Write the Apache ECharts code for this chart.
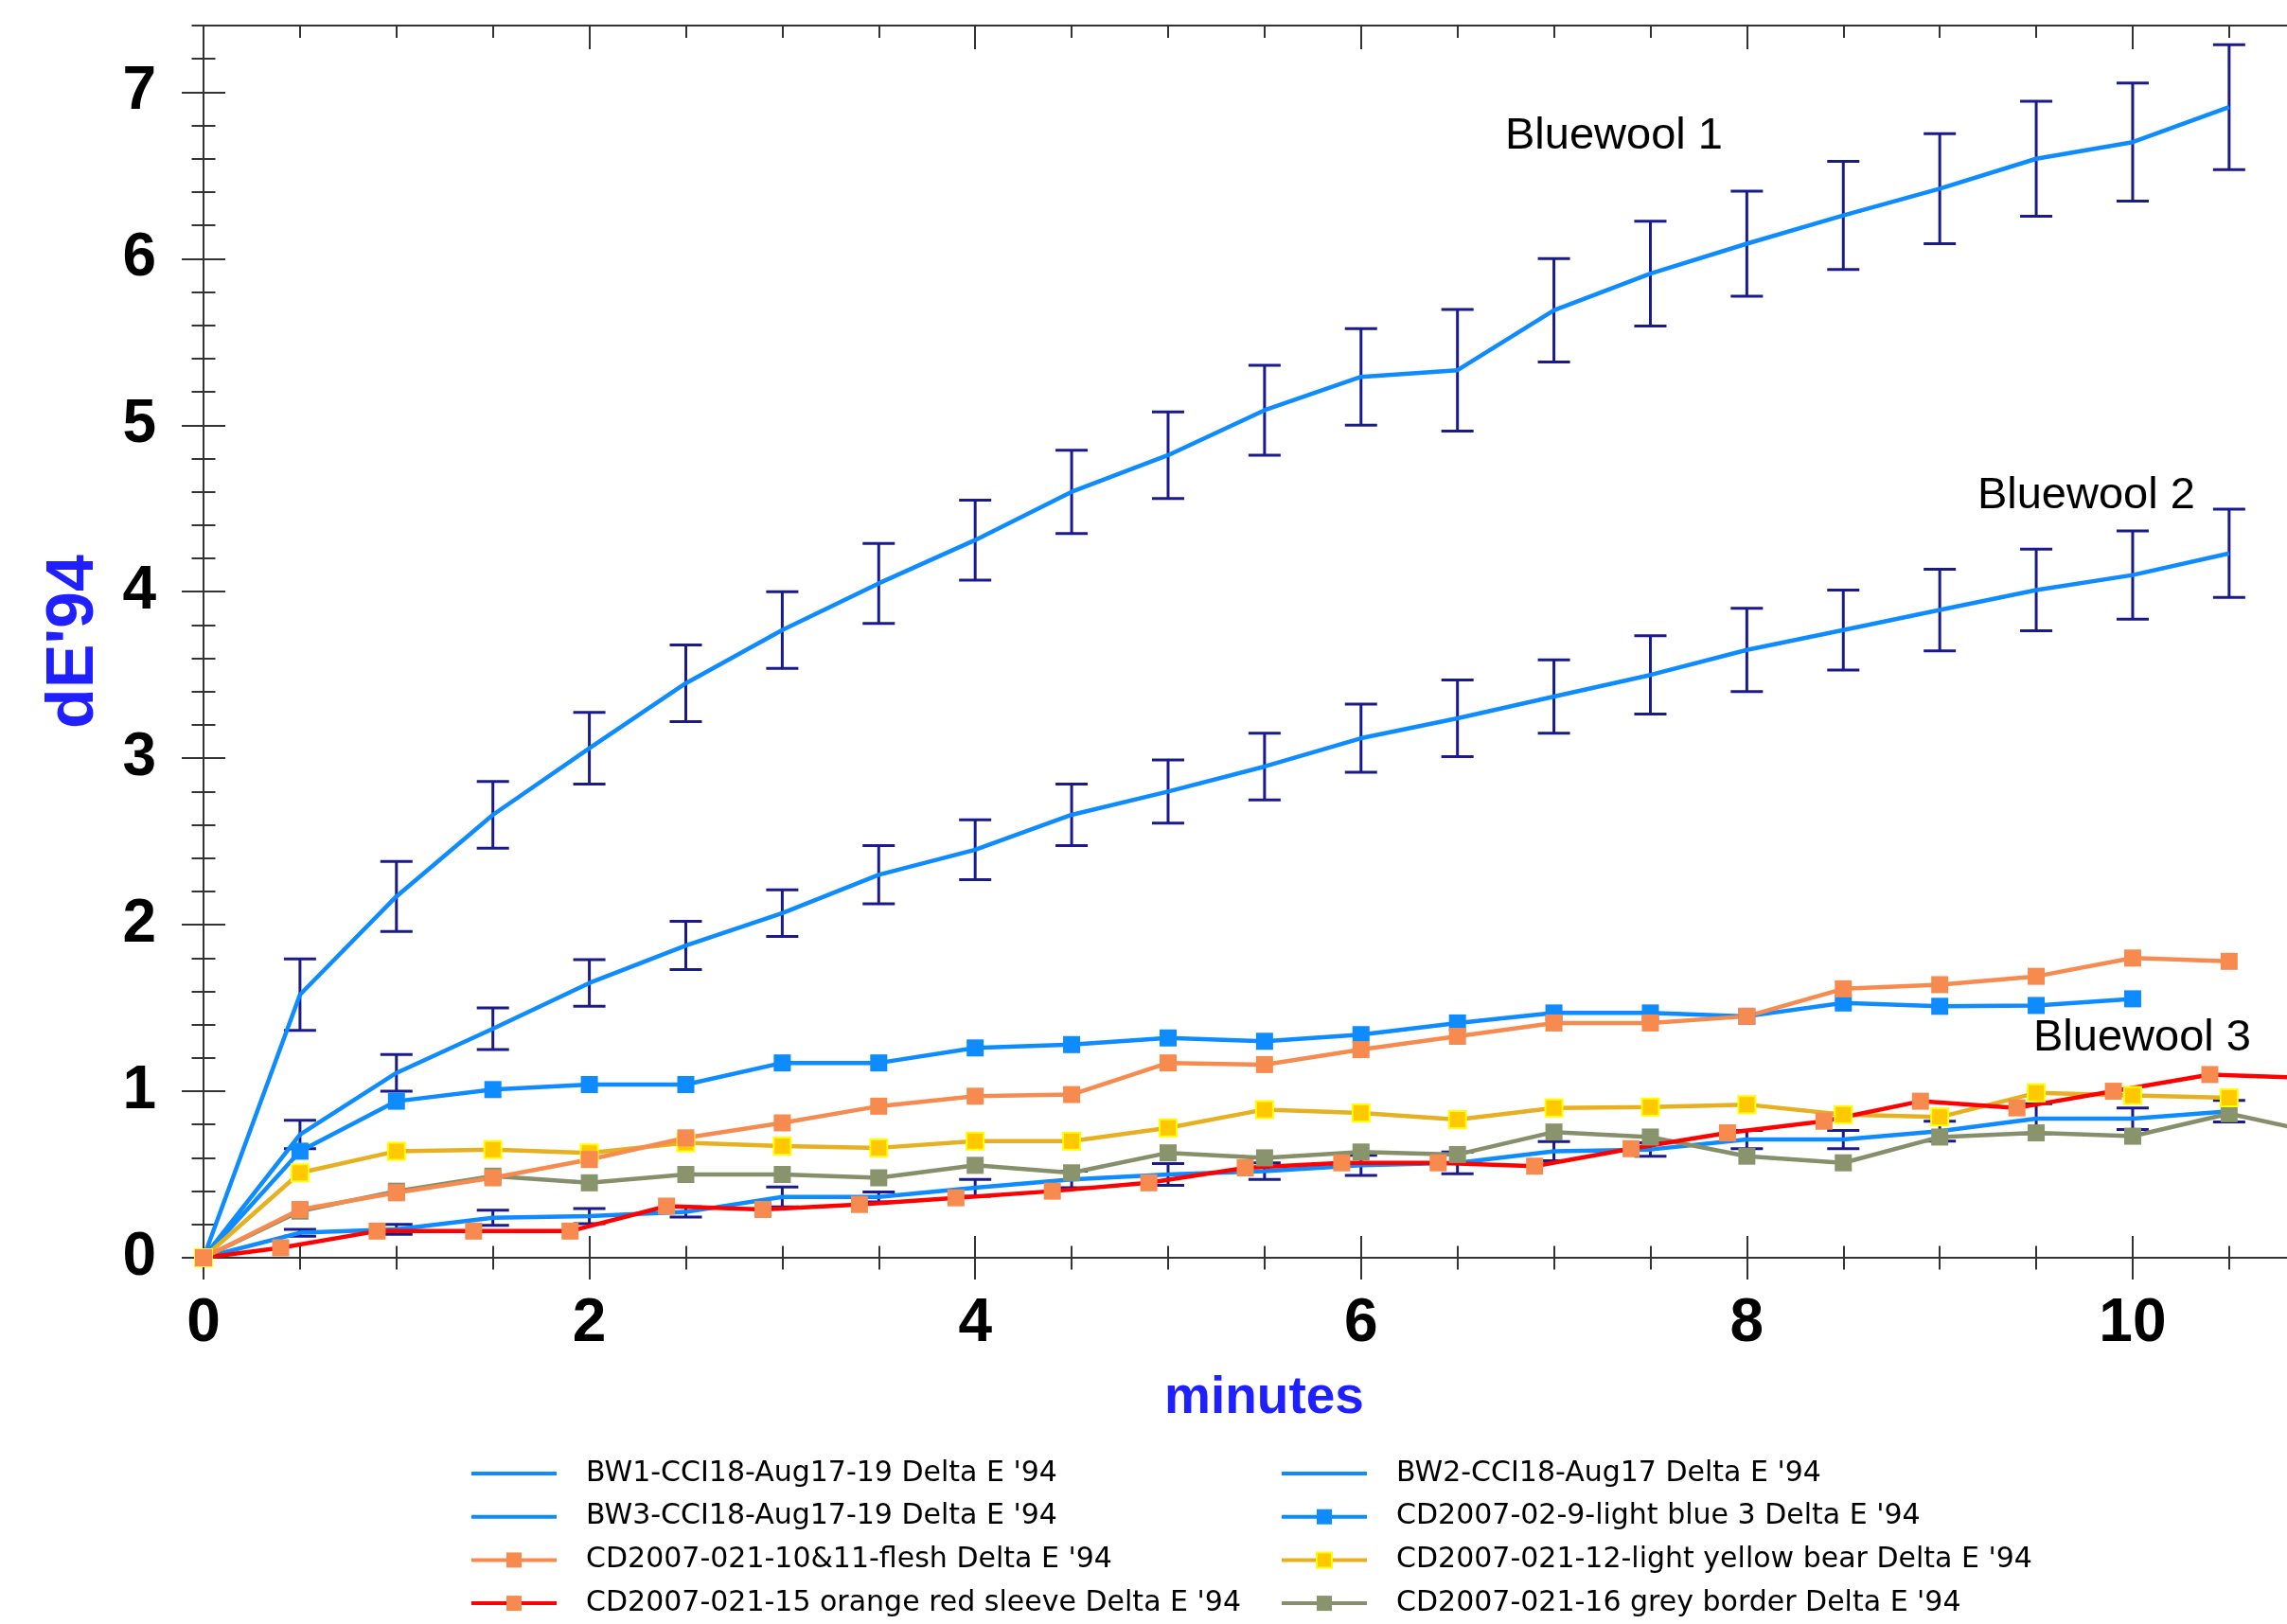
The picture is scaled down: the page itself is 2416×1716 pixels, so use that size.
<!DOCTYPE html>
<html><head><meta charset="utf-8">
<script src="https://cdn.jsdelivr.net/npm/echarts@6/dist/echarts.min.js"></script>
<style>html,body{margin:0;padding:0;background:#fff}#c{width:2416px;height:1716px}</style>
</head><body><div id="c"></div>
<script>
// ---- data ----
const minutes = [0,0.5,1,1.5,2,2.5,3,3.5,4,4.5,5,5.5,6,6.5,7,7.5,8,8.5,9,9.5,10,10.5];
const bw1    = [0,1.58,2.17,2.66,3.06,3.45,3.77,4.05,4.31,4.60,4.82,5.09,5.29,5.33,5.69,5.91,6.09,6.26,6.42,6.60,6.70,6.91];
const bw1Err = [0,0.215,0.21,0.20,0.215,0.23,0.23,0.24,0.24,0.25,0.26,0.27,0.29,0.365,0.31,0.315,0.315,0.325,0.33,0.345,0.355,0.375];
const bw2    = [0,0.74,1.11,1.375,1.65,1.875,2.07,2.30,2.45,2.66,2.80,2.95,3.12,3.24,3.37,3.50,3.65,3.77,3.89,4.01,4.10,4.23];
const bw2Err = [0,0.085,0.11,0.125,0.14,0.145,0.14,0.175,0.18,0.185,0.19,0.2,0.205,0.23,0.22,0.235,0.25,0.24,0.245,0.245,0.265,0.265];
const bw3    = [0,0.15,0.17,0.24,0.25,0.275,0.365,0.365,0.42,0.47,0.50,0.52,0.555,0.57,0.64,0.65,0.71,0.71,0.76,0.835,0.835,0.88];
const bw3Err = [0,0.02,0.03,0.045,0.045,0.03,0.06,0.03,0.05,0.05,0.065,0.05,0.06,0.065,0.057,0.04,0.055,0.055,0.06,0.09,0.065,0.065];
const lightBlueMinutes = [0,0.5,1,1.5,2,2.5,3,3.5,4,4.5,5,5.5,6,6.5,7,7.5,8,8.5,9,9.5,10];
const lightBlue = [0,0.64,0.94,1.01,1.04,1.04,1.17,1.17,1.26,1.28,1.32,1.30,1.34,1.41,1.47,1.47,1.45,1.53,1.51,1.515,1.555];
const flesh  = [0,0.29,0.39,0.48,0.59,0.72,0.81,0.91,0.97,0.98,1.17,1.16,1.25,1.33,1.41,1.41,1.45,1.615,1.64,1.69,1.80,1.78];
const yellow = [0,0.51,0.64,0.65,0.63,0.69,0.67,0.66,0.70,0.70,0.78,0.89,0.87,0.83,0.90,0.905,0.92,0.86,0.845,0.99,0.975,0.96];
const greyMinutes = [0,0.5,1,1.5,2,2.5,3,3.5,4,4.5,5,5.5,6,6.5,7,7.5,8,8.5,9,9.5,10,10.5,11];
const grey   = [0,0.28,0.40,0.49,0.45,0.50,0.50,0.48,0.555,0.51,0.63,0.60,0.635,0.62,0.755,0.725,0.61,0.57,0.725,0.75,0.73,0.865,0.74];
const redMinutes = [0,0.4,0.9,1.4,1.9,2.4,2.9,3.4,3.9,4.4,4.9,5.4,5.9,6.4,6.9,7.4,7.9,8.4,8.9,9.4,9.9,10.4,10.9];
const red    = [0,0.06,0.16,0.16,0.16,0.31,0.29,0.32,0.36,0.40,0.45,0.54,0.57,0.57,0.55,0.655,0.75,0.82,0.94,0.90,1.00,1.10,1.08];

const xMajorTicks = [0,2,4,6,8,10];
const xMinorTicks = [0.5,1,1.5,2.5,3,3.5,4.5,5,5.5,6.5,7,7.5,8.5,9,9.5,10.5];
const yMajorTicks = [0,1,2,3,4,5,6,7];
const yMinorTicks = [0.2,0.4,0.6,0.8,1.2,1.4,1.6,1.8,2.2,2.4,2.6,2.8,3.2,3.4,3.6,3.8,4.2,4.4,4.6,4.8,5.2,5.4,5.6,5.8,6.2,6.4,6.6,6.8,7.2,7.4];

const names = {
  bw1: "BW1-CCI18-Aug17-19 Delta E '94",
  bw2: "BW2-CCI18-Aug17 Delta E '94",
  bw3: "BW3-CCI18-Aug17-19 Delta E '94",
  lb:  "CD2007-02-9-light blue 3 Delta E '94",
  fl:  "CD2007-021-10&11-flesh Delta E '94",
  ye:  "CD2007-021-12-light yellow bear Delta E '94",
  rd:  "CD2007-021-15 orange red sleeve Delta E '94",
  gr:  "CD2007-021-16 grey border Delta E '94"
};
const annotations = [
  {text: 'Bluewool 1', x: 6.747, y: 6.733},
  {text: 'Bluewool 2', x: 9.195, y: 4.574},
  {text: 'Bluewool 3', x: 9.485, y: 1.318}
];

// ---- styles ----
const BLUE = '#0d8bff', NAVY = '#1a1a8c', AXIS = '#333333';
const LW = 4.5;
const zip = (xs, ys) => xs.map((x, i) => [x, ys[i]]);

function lineSeries(name, xs, ys, lineColor, opts) {
  return Object.assign({
    type: 'line', name, data: zip(xs, ys), z: 3,
    symbol: 'none', lineStyle: {color: lineColor, width: LW},
    itemStyle: {color: lineColor}, emphasis: {disabled: true}
  }, opts || {});
}
function markerSeries(name, xs, ys, lineColor, fill, border) {
  return lineSeries(name, xs, ys, lineColor, {
    symbol: 'rect', symbolSize: 18, showSymbol: true, z: 4,
    itemStyle: {color: fill, borderColor: border || fill, borderWidth: border ? 2 : 0}
  });
}
function errSeries(xs, ys, es) {
  const data = [];
  xs.forEach((x, i) => { if (es[i] > 0) data.push([x, ys[i] - es[i], ys[i] + es[i]]); });
  return {
    type: 'custom', silent: true, z: 2, data,
    encode: {x: 0, y: [1, 2]},
    renderItem(params, api) {
      const x = api.value(0);
      const lo = api.coord([x, api.value(1)]);
      const hi = api.coord([x, api.value(2)]);
      const w = 17, st = {stroke: NAVY, lineWidth: 3};
      return {type: 'group', children: [
        {type: 'line', shape: {x1: lo[0], y1: lo[1], x2: hi[0], y2: hi[1]}, style: st},
        {type: 'line', shape: {x1: lo[0]-w, y1: lo[1], x2: lo[0]+w, y2: lo[1]}, style: st},
        {type: 'line', shape: {x1: hi[0]-w, y1: hi[1], x2: hi[0]+w, y2: hi[1]}, style: st}
      ]};
    }
  };
}

const tickStyle = {color: AXIS, width: 2};
const X_MIN = 0, X_MAX = 10.8, Y_MIN = 0, Y_MAX = 7.4;
const xBase = {type: 'value', min: X_MIN, max: X_MAX, splitLine: {show: false}};
const yBase = {type: 'value', min: Y_MIN, max: Y_MAX, splitLine: {show: false}};

const legendText = {fontFamily: 'DejaVu Sans', fontSize: 30, color: '#000', lineHeight: 30, padding: [0, 0, 0, 26]};
const lineOnly = n => ({name: n, itemStyle: {opacity: 0}});

const chart = echarts.init(document.getElementById('c'), null, {renderer: 'canvas'});
const option = {
  animation: false,
  backgroundColor: '#ffffff',
  grid: {left: 215, right: 0, top: 27, bottom: 387, containLabel: false},
  xAxis: [
    Object.assign({}, xBase, {
      position: 'bottom',
      axisLine: {show: true, lineStyle: {color: AXIS, width: 2}},
      axisTick: {show: false},
      axisLabel: {customValues: xMajorTicks, fontSize: 64, fontWeight: 'bold', fontFamily: 'Liberation Sans', color: '#000', margin: 38},
      name: 'minutes', nameLocation: 'middle', nameGap: 121,
      nameTextStyle: {fontSize: 55, fontWeight: 'bold', fontFamily: 'Liberation Sans', color: '#1f1fff', padding: [0, 0, 0, 40]}
    }),
    Object.assign({}, xBase, {
      position: 'bottom', offset: -23,
      axisLine: {show: false}, axisLabel: {show: false},
      axisTick: {show: true, customValues: xMajorTicks, length: 46, lineStyle: tickStyle}
    }),
    Object.assign({}, xBase, {
      position: 'bottom', offset: -12.5,
      axisLine: {show: false}, axisLabel: {show: false},
      axisTick: {show: true, customValues: xMinorTicks, length: 25, lineStyle: tickStyle}
    }),
    Object.assign({}, xBase, {
      position: 'top',
      axisLine: {show: true, lineStyle: {color: AXIS, width: 2}}, axisLabel: {show: false},
      axisTick: {show: true, inside: true, customValues: xMajorTicks, length: 25, lineStyle: tickStyle}
    }),
    Object.assign({}, xBase, {
      position: 'top',
      axisLine: {show: false}, axisLabel: {show: false},
      axisTick: {show: true, inside: true, customValues: xMinorTicks, length: 13, lineStyle: tickStyle}
    })
  ],
  yAxis: [
    Object.assign({}, yBase, {
      position: 'left',
      axisLine: {show: true, lineStyle: {color: AXIS, width: 2}},
      axisTick: {show: false},
      axisLabel: {customValues: yMajorTicks, fontSize: 64, fontWeight: 'bold', fontFamily: 'Liberation Sans', color: '#000', margin: 50},
      name: "dE'94", nameLocation: 'middle', nameGap: 101,
      nameTextStyle: {fontSize: 70, fontWeight: 'bold', fontFamily: 'Liberation Sans', color: '#1f1fff'}
    }),
    Object.assign({}, yBase, {
      position: 'left', offset: -23,
      axisLine: {show: false}, axisLabel: {show: false},
      axisTick: {show: true, customValues: yMajorTicks, length: 46, lineStyle: tickStyle}
    }),
    Object.assign({}, yBase, {
      position: 'left', offset: -12.5,
      axisLine: {show: false}, axisLabel: {show: false},
      axisTick: {show: true, customValues: yMinorTicks, length: 25, lineStyle: tickStyle}
    })
  ],
  legend: [
    {
      left: 491, top: 1537, orient: 'vertical', itemGap: 15.7, itemWidth: 90, itemHeight: 20,
      selectedMode: false, lineStyle: {width: 4},
      data: [lineOnly(names.bw1), lineOnly(names.bw3), names.fl, names.rd],
      textStyle: legendText
    },
    {
      left: 1347, top: 1537, orient: 'vertical', itemGap: 15.7, itemWidth: 90, itemHeight: 20,
      selectedMode: false, lineStyle: {width: 4},
      data: [lineOnly(names.bw2), names.lb, names.ye, names.gr],
      textStyle: legendText
    }
  ],
  series: [
    errSeries(minutes, bw1, bw1Err),
    errSeries(minutes, bw2, bw2Err),
    errSeries(minutes, bw3, bw3Err),
    lineSeries(names.bw1, minutes, bw1, BLUE),
    lineSeries(names.bw2, minutes, bw2, BLUE),
    lineSeries(names.bw3, minutes, bw3, BLUE),
    markerSeries(names.lb, lightBlueMinutes, lightBlue, BLUE, BLUE),
    markerSeries(names.gr, greyMinutes, grey, '#85906a', '#8a946c'),
    markerSeries(names.ye, minutes, yellow, '#e6b020', '#ffc800', '#ffff00'),
    markerSeries(names.rd, redMinutes, red, '#ff0000', '#f78b4f'),
    markerSeries(names.fl, minutes, flesh, '#f78b4f', '#f78b4f')
  ]
};
chart.setOption(option);

const gfx = annotations.map(a => {
  const p = chart.convertToPixel({xAxisIndex: 0, yAxisIndex: 0}, [a.x, a.y]);
  return {type: 'text', silent: true, z: 10, x: p[0], y: p[1],
    style: {text: a.text, fontSize: 47, fontFamily: 'Liberation Sans', fill: '#000', align: 'left', verticalAlign: 'middle'}};
});
chart.setOption({graphic: gfx});
</script>
</body></html>
